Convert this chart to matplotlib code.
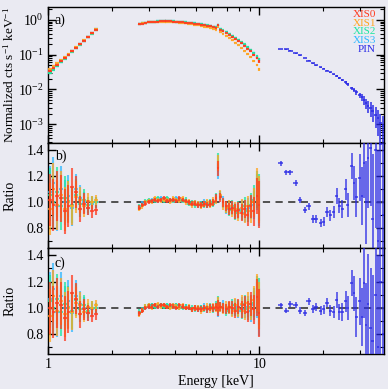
import numpy as np
import matplotlib
matplotlib.use("Agg")
import matplotlib.pyplot as plt
from matplotlib.ticker import LogLocator, MultipleLocator, FixedLocator, FixedFormatter, NullFormatter

plt.rcParams['font.family'] = ['Liberation Serif', 'DejaVu Serif']
plt.rcParams['mathtext.fontset'] = 'custom'
plt.rcParams['mathtext.rm'] = 'Liberation Serif'
plt.rcParams['mathtext.it'] = 'Liberation Serif:italic'

# ---------------- data ----------------
det_names = ["XIS0", "XIS1", "XIS2", "XIS3", "PIN"]
det_colors = ["#ff3a1f", "#ffa51f", "#1ee6a0", "#30b8ff", "#2a2ae6"]

e_lo = [1.02, 1.06, 1.10, 1.15, 1.20, 1.25, 1.30, 1.36, 1.42, 1.48, 1.55, 1.62, 1.69]
err_lo = [0.20, 0.20, 0.19, 0.18, 0.17, 0.16, 0.14, 0.12, 0.10, 0.08, 0.06, 0.05, 0.04]

e_hi = [2.70, 2.79, 2.89, 2.99, 3.09, 3.20, 3.31, 3.42, 3.54, 3.66, 3.79, 3.92, 4.05, 4.19,
        4.34, 4.48, 4.64, 4.80, 4.96, 5.13, 5.31, 5.49, 5.68, 5.87, 6.06, 6.24, 6.40, 6.55,
        6.73, 6.96, 7.20, 7.44, 7.70, 7.96, 8.24, 8.52, 8.81, 9.11, 9.43, 9.75, 9.95]
err_hi = [0.020, 0.018, 0.017, 0.016, 0.016, 0.015, 0.015, 0.015, 0.015, 0.015, 0.015, 0.016,
          0.016, 0.017, 0.017, 0.018, 0.019, 0.020, 0.021, 0.022, 0.023, 0.024, 0.025, 0.027,
          0.029, 0.031, 0.060, 0.034, 0.037, 0.040, 0.045, 0.050, 0.055, 0.060, 0.065, 0.070,
          0.080, 0.090, 0.110, 0.140, 0.180]

# panel a: normalized counts
flux_lo_xis0 = [0.034, 0.041, 0.050, 0.064, 0.080, 0.100, 0.126, 0.160, 0.200, 0.250, 0.320, 0.410, 0.530]
flux_lo_xis1 = [0.038, 0.046, 0.056, 0.070, 0.086, 0.106, 0.132, 0.166, 0.206, 0.258, 0.326, 0.418, 0.540]
flux_lo_xis2 = [0.030, 0.036, 0.046, 0.060, 0.076, 0.096, 0.122, 0.156, 0.196, 0.248, 0.316, 0.406, 0.530]
flux_lo_xis3 = [0.032, 0.038, 0.048, 0.062, 0.078, 0.098, 0.124, 0.158, 0.198, 0.250, 0.318, 0.410, 0.535]

flux_hi_xis0 = [0.74, 0.78, 0.82, 0.85, 0.87, 0.89, 0.90, 0.91, 0.91, 0.91, 0.91, 0.90, 0.89, 0.87,
                0.86, 0.84, 0.82, 0.80, 0.78, 0.76, 0.73, 0.71, 0.68, 0.65, 0.62, 0.60, 0.70, 0.52,
                0.47, 0.42, 0.37, 0.32, 0.28, 0.245, 0.21, 0.18, 0.15, 0.125, 0.10, 0.08, 0.065]
flux_hi_xis1 = [0.75, 0.79, 0.82, 0.85, 0.87, 0.88, 0.89, 0.90, 0.90, 0.89, 0.89, 0.87, 0.86, 0.84,
                0.82, 0.80, 0.77, 0.75, 0.73, 0.70, 0.67, 0.64, 0.61, 0.58, 0.55, 0.53, 0.62, 0.45,
                0.40, 0.35, 0.30, 0.26, 0.22, 0.19, 0.155, 0.13, 0.105, 0.085, 0.066, 0.05, 0.038]
flux_hi_xis2 = [0.76, 0.80, 0.83, 0.86, 0.88, 0.90, 0.91, 0.92, 0.92, 0.92, 0.92, 0.91, 0.90, 0.89,
                0.87, 0.86, 0.84, 0.82, 0.80, 0.78, 0.76, 0.73, 0.70, 0.67, 0.64, 0.62, 0.73, 0.55,
                0.50, 0.45, 0.40, 0.35, 0.31, 0.27, 0.23, 0.20, 0.17, 0.14, 0.115, 0.092, 0.076]
flux_hi_xis3 = [0.75, 0.79, 0.83, 0.86, 0.88, 0.89, 0.91, 0.91, 0.92, 0.92, 0.91, 0.91, 0.90, 0.88,
                0.87, 0.85, 0.83, 0.81, 0.79, 0.77, 0.75, 0.72, 0.69, 0.66, 0.63, 0.61, 0.71, 0.54,
                0.49, 0.44, 0.39, 0.34, 0.30, 0.26, 0.22, 0.19, 0.16, 0.135, 0.11, 0.088, 0.072]

# panel b: ratio to continuum model
ratb_lo_xis0 = [1.02, 0.98, 1.05, 1.03, 0.93, 0.97, 1.12, 1.08, 0.95, 0.99, 0.96, 0.93, 0.94]
ratb_lo_xis1 = [0.95, 1.10, 0.98, 1.06, 0.95, 1.00, 0.97, 1.04, 1.02, 0.97, 1.01, 1.00, 1.02]
ratb_lo_xis2 = [1.06, 1.00, 1.08, 0.97, 1.03, 1.01, 0.98, 1.06, 0.99, 1.02, 0.98, 1.00, 1.00]
ratb_lo_xis3 = [1.08, 1.15, 0.97, 1.10, 1.00, 1.05, 0.96, 1.10, 1.03, 1.00, 0.96, 0.99, 1.00]

ratb_hi_xis0 = [0.96, 0.98, 0.99, 1.00, 1.01, 1.02, 1.01, 1.02, 1.03, 1.01, 1.02, 1.02, 1.01, 1.03,
                1.02, 1.01, 1.00, 0.99, 0.99, 0.98, 0.98, 0.99, 0.98, 0.99, 1.00, 1.03, 1.26, 1.04,
                1.00, 0.97, 0.95, 0.96, 0.93, 0.94, 0.92, 0.95, 0.90, 0.97, 0.93, 1.05, 0.98]
ratb_hi_xis1 = [0.95, 0.97, 1.00, 1.01, 1.00, 1.03, 1.02, 1.01, 1.02, 1.02, 1.00, 1.03, 1.02, 1.01,
                1.03, 1.00, 1.01, 0.98, 1.00, 0.99, 0.97, 0.99, 1.00, 0.98, 1.01, 1.02, 1.30, 1.06,
                0.98, 0.96, 0.97, 0.94, 0.95, 0.92, 0.96, 0.91, 0.97, 0.93, 1.00, 1.12, 1.02]
ratb_hi_xis2 = [0.97, 0.98, 1.01, 1.02, 1.01, 1.01, 1.03, 1.02, 1.01, 1.03, 1.02, 1.01, 1.02, 1.02,
                1.01, 1.02, 0.99, 1.00, 0.98, 0.99, 0.99, 0.98, 0.99, 1.00, 0.99, 1.04, 1.32, 1.05,
                0.99, 0.96, 0.94, 0.97, 0.92, 0.95, 0.93, 0.97, 0.93, 0.98, 1.02, 1.10, 1.04]
ratb_hi_xis3 = [0.96, 0.99, 1.00, 1.01, 1.02, 1.02, 1.01, 1.03, 1.02, 1.02, 1.01, 1.02, 1.03, 1.01,
                1.02, 1.01, 1.00, 0.99, 1.00, 0.98, 0.99, 1.00, 0.98, 0.99, 1.00, 1.03, 1.24, 1.05,
                1.01, 0.95, 0.96, 0.95, 0.94, 0.93, 0.95, 0.92, 0.95, 0.96, 0.98, 1.08, 1.00]

# panel c: ratio to best-fit model
ratc_lo_xis0 = [1.00, 0.97, 1.04, 1.02, 0.92, 0.97, 1.11, 1.07, 0.95, 0.99, 0.96, 0.94, 0.95]
ratc_lo_xis1 = [0.94, 1.09, 0.98, 1.05, 0.95, 1.00, 0.97, 1.04, 1.02, 0.97, 1.01, 1.00, 1.02]
ratc_lo_xis2 = [1.05, 1.00, 1.07, 0.97, 1.03, 1.01, 0.98, 1.06, 0.99, 1.02, 0.98, 1.00, 1.00]
ratc_lo_xis3 = [1.07, 1.14, 0.97, 1.09, 1.00, 1.05, 0.96, 1.09, 1.03, 1.00, 0.96, 0.99, 1.00]

ratc_hi_xis0 = [0.96, 0.98, 1.00, 1.01, 1.01, 1.02, 1.01, 1.02, 1.02, 1.01, 1.02, 1.01, 1.00, 1.02,
                1.01, 1.00, 1.00, 0.99, 1.00, 0.99, 0.99, 1.00, 0.99, 1.00, 1.00, 1.01, 1.00, 1.01,
                1.00, 0.99, 1.01, 1.00, 0.98, 1.01, 0.99, 1.02, 0.97, 1.03, 0.99, 1.08, 0.96]
ratc_hi_xis1 = [0.95, 0.98, 1.01, 1.02, 1.00, 1.02, 1.03, 1.01, 1.02, 1.01, 1.00, 1.02, 1.01, 1.00,
                1.02, 1.00, 1.01, 0.99, 1.00, 1.00, 0.98, 1.00, 1.01, 0.99, 1.01, 1.00, 1.02, 1.00,
                0.99, 1.01, 1.00, 0.98, 1.02, 0.99, 1.03, 0.98, 1.04, 1.00, 1.06, 1.12, 1.02]
ratc_hi_xis2 = [0.97, 0.99, 1.01, 1.02, 1.02, 1.01, 1.02, 1.02, 1.01, 1.02, 1.01, 1.01, 1.02, 1.01,
                1.00, 1.01, 1.00, 1.00, 0.99, 1.00, 1.00, 0.99, 1.00, 1.01, 0.99, 1.02, 1.03, 1.01,
                1.00, 0.98, 1.00, 1.02, 0.99, 1.00, 0.98, 1.03, 0.99, 1.01, 1.04, 1.10, 1.05]
ratc_hi_xis3 = [0.96, 0.98, 1.00, 1.01, 1.02, 1.02, 1.01, 1.02, 1.02, 1.02, 1.01, 1.02, 1.02, 1.00,
                1.01, 1.01, 1.00, 0.99, 1.00, 0.99, 1.00, 1.01, 0.99, 1.00, 1.00, 1.01, 0.99, 1.00,
                1.02, 0.99, 1.00, 0.99, 1.01, 0.98, 1.02, 0.99, 1.01, 0.98, 1.02, 1.06, 0.97]

# HXD-PIN
e_pin = [12.6, 13.4, 14.0, 14.9, 15.6, 16.4, 17.1, 18.0, 18.6, 19.5, 20.2, 20.9, 21.7, 22.5,
         23.2, 23.9, 24.7, 25.6, 26.2, 27.4, 28.0, 28.7, 29.9, 30.5, 31.2, 32.0, 32.7, 33.6,
         34.4, 35.5, 36.4, 37.4, 38.6, 39.5]
flux_pin = [0.145, 0.143, 0.13, 0.11, 0.095, 0.08, 0.068, 0.056, 0.049, 0.043, 0.039, 0.035,
            0.031, 0.027, 0.024, 0.021, 0.019, 0.016, 0.014, 0.011, 0.0095, 0.0082, 0.0068,
            0.0060, 0.0050, 0.0040, 0.0034, 0.0030, 0.0024, 0.0019, 0.0015, 0.0011, 0.0009, 0.0006]
err_pin = [0.02, 0.02, 0.02, 0.022, 0.024, 0.025, 0.027, 0.03, 0.03, 0.032, 0.034, 0.036, 0.04,
           0.045, 0.06, 0.06, 0.07, 0.08, 0.09, 0.10, 0.13, 0.15, 0.18, 0.22, 0.27, 0.32, 0.38,
           0.45, 0.5, 0.6, 0.7, 0.8, 0.9, 1.0]
ratb_pin = [1.30, 1.23, 1.23, 1.15, 1.02, 0.94, 0.97, 0.875, 0.875, 0.84, 0.85, 0.925, 0.90,
            0.925, 1.05, 0.975, 0.95, 1.10, 0.98, 1.28, 1.15, 1.04, 1.19, 1.05, 1.30, 1.00, 1.34,
            1.42, 0.87, 1.40, 0.70, 1.45, 0.9, 1.2]
ratc_pin = [1.02, 0.98, 1.03, 1.02, 0.98, 0.96, 1.05, 0.99, 1.01, 0.98, 0.99, 1.04, 0.98, 0.97,
            1.06, 0.97, 0.97, 1.05, 1.00, 1.19, 1.11, 0.93, 1.05, 0.93, 1.19, 0.87, 1.03, 0.85,
            0.75, 1.1, 0.7, 1.2, 0.8, 1.0]

flux_lo = [flux_lo_xis0, flux_lo_xis1, flux_lo_xis2, flux_lo_xis3]
flux_hi = [flux_hi_xis0, flux_hi_xis1, flux_hi_xis2, flux_hi_xis3]
ratb_lo = [ratb_lo_xis0, ratb_lo_xis1, ratb_lo_xis2, ratb_lo_xis3]
ratb_hi = [ratb_hi_xis0, ratb_hi_xis1, ratb_hi_xis2, ratb_hi_xis3]
ratc_lo = [ratc_lo_xis0, ratc_lo_xis1, ratc_lo_xis2, ratc_lo_xis3]
ratc_hi = [ratc_hi_xis0, ratc_hi_xis1, ratc_hi_xis2, ratc_hi_xis3]

# ---------------- figure ----------------
BG = "#eaeaf2"
fig = plt.figure(figsize=(3.88, 3.89), dpi=100, facecolor=BG)
L, R = 48 / 388, 384 / 388
def yf(p):
    return 1 - p / 389
ax_a = fig.add_axes([L, yf(143), R - L, yf(7) - yf(143)])
ax_b = fig.add_axes([L, yf(248), R - L, yf(143) - yf(248)], sharex=ax_a)
ax_c = fig.add_axes([L, yf(354), R - L, yf(248) - yf(354)], sharex=ax_a)

e_lo_a = np.array(e_lo)
e_hi_a = np.array(e_hi)
xerr_lo = np.gradient(e_lo_a) / 2
xerr_hi = np.gradient(e_hi_a) / 2
e_pin_a = np.array(e_pin)
xerr_pin = np.gradient(e_pin_a) / 2

order = [3, 2, 1, 0]
for i in order:
    c = det_colors[i]
    ax_a.errorbar(e_lo, flux_lo[i], xerr=xerr_lo, yerr=np.array(flux_lo[i]) * 0.04,
                  fmt='none', ecolor=c, elinewidth=1.6, alpha=0.9, zorder=3)
    ax_a.errorbar(e_hi, flux_hi[i], xerr=xerr_hi, yerr=np.array(flux_hi[i]) * np.array(err_hi) * 0.5,
                  fmt='none', ecolor=c, elinewidth=1.6, alpha=0.9, zorder=3)
    for ax, rlo, rhi in ((ax_b, ratb_lo[i], ratb_hi[i]), (ax_c, ratc_lo[i], ratc_hi[i])):
        ax.errorbar(e_lo, rlo, xerr=xerr_lo, yerr=err_lo, fmt='none', ecolor=c,
                    elinewidth=1.5, alpha=0.75, zorder=3)
        ax.errorbar(e_hi, rhi, xerr=xerr_hi, yerr=err_hi, fmt='none', ecolor=c,
                    elinewidth=1.5, alpha=0.75, zorder=3)

pc = det_colors[4]
flux_pin_a = np.array(flux_pin)
ferr = np.minimum(flux_pin_a * np.array(err_pin), flux_pin_a * 0.999)
ax_a.errorbar(e_pin, flux_pin, xerr=xerr_pin, yerr=[ferr, flux_pin_a * np.array(err_pin)],
              fmt='none', ecolor=pc, elinewidth=1.2, alpha=0.9, zorder=3)
ax_b.errorbar(e_pin, ratb_pin, xerr=xerr_pin, yerr=err_pin, fmt='none', ecolor=pc,
              elinewidth=1.3, alpha=0.75, zorder=3)
ax_c.errorbar(e_pin, ratc_pin, xerr=xerr_pin, yerr=err_pin, fmt='none', ecolor=pc,
              elinewidth=1.3, alpha=0.75, zorder=3)

for ax in (ax_b, ax_c):
    ax.axhline(1.0, color='#444444', lw=1.3, ls=(0, (4, 3)), zorder=2)

# axes styling
for ax in (ax_a, ax_b, ax_c):
    ax.set_facecolor(BG)
    ax.set_xscale('log')
    ax.set_xlim(1, 38.9)
    ax.tick_params(which='both', direction='in', top=True, right=True, labelsize=10,
                   colors='black', pad=3)
    ax.tick_params(which='major', length=6, width=1.0)
    ax.tick_params(which='minor', length=3, width=0.8)
    for s in ax.spines.values():
        s.set_linewidth(1.0)
        s.set_color('black')
    ax.xaxis.set_major_locator(FixedLocator([1, 10]))
    ax.xaxis.set_minor_locator(FixedLocator([2, 3, 4, 5, 6, 7, 8, 9, 20, 30]))
    ax.xaxis.set_minor_formatter(NullFormatter())

ax_a.set_yscale('log')
ax_a.set_ylim(2.9e-4, 2.35)
ax_a.yaxis.set_major_locator(FixedLocator([1e-3, 1e-2, 1e-1, 1e0]))
ax_a.yaxis.set_major_formatter(FixedFormatter([r'$10^{-3}$', r'$10^{-2}$', r'$10^{-1}$', r'$10^{0}$']))
ax_a.yaxis.set_minor_locator(LogLocator(base=10, subs=np.arange(2, 10), numticks=20))
ax_a.yaxis.set_minor_formatter(NullFormatter())
ax_a.set_ylabel(r'Normalized cts s$^{-1}$ keV$^{-1}$', fontsize=9.5)

for ax in (ax_b, ax_c):
    ax.set_ylim(0.65, 1.455)
    ax.yaxis.set_major_locator(MultipleLocator(0.2))
    ax.yaxis.set_minor_locator(MultipleLocator(0.1))
    ax.yaxis.set_major_formatter(matplotlib.ticker.FormatStrFormatter('%.1f'))
    ax.set_ylabel('Ratio', fontsize=10)

plt.setp(ax_a.get_xticklabels(), visible=False)
plt.setp(ax_b.get_xticklabels(), visible=False)
ax_c.xaxis.set_major_formatter(FixedFormatter(['1', '10']))
ax_c.set_xlabel('Energy [keV]', fontsize=10, labelpad=3)

for ax in (ax_a, ax_b, ax_c):
    ax.yaxis.set_label_coords(-0.094, 0.5)

ax_a.text(0.02, 0.90, 'a)', transform=ax_a.transAxes, fontsize=10, va='center')
ax_b.text(0.02, 0.87, 'b)', transform=ax_b.transAxes, fontsize=10, va='center')
ax_c.text(0.02, 0.86, 'c)', transform=ax_c.transAxes, fontsize=10, va='center')

for k, (name, col) in enumerate(zip(det_names, det_colors)):
    ax_a.text(0.9755, 0.946 - k * 0.0647, name, color=col, transform=ax_a.transAxes,
              fontsize=8, ha='right', va='center')

fig.savefig('out.png', dpi=100, facecolor=BG)
